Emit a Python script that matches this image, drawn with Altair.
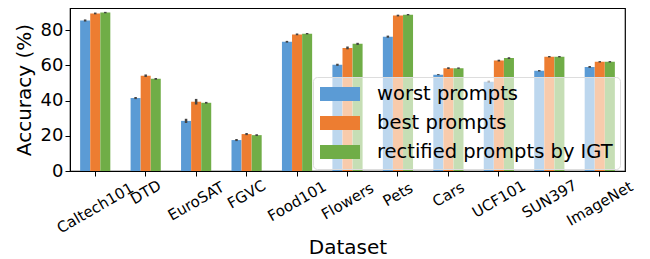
import altair as alt
import pandas as pd

datasets = ["Caltech101", "DTD", "EuroSAT", "FGVC", "Food101", "Flowers", "Pets",
            "Cars", "UCF101", "SUN397", "ImageNet"]
series = ["worst prompts", "best prompts", "rectified prompts by IGT"]
worst = [85.6, 41.5, 28.5, 17.6, 73.5, 60.4, 76.4, 54.8, 50.8, 57.0, 59.2]
best = [89.6, 54.2, 39.4, 21.0, 77.7, 70.0, 88.4, 58.5, 62.8, 65.0, 62.1]
rect = [90.1, 52.4, 38.8, 20.4, 78.1, 72.3, 88.9, 58.5, 64.2, 65.0, 62.1]
err_worst = [0.6, 0.6, 1.2, 0.6, 0.5, 0.6, 0.6, 0.3, 0.6, 0.4, 0.5]
err_best = [0.5, 0.7, 1.6, 0.6, 0.5, 0.8, 0.5, 0.5, 0.5, 0.4, 0.4]
err_rect = [0.4, 0.5, 0.5, 0.5, 0.4, 0.6, 0.4, 0.4, 0.5, 0.4, 0.4]
colors = ["#5b9bd5", "#ed7d31", "#70ad47"]

rows = []
for vals, errs, s in [(worst, err_worst, series[0]), (best, err_best, series[1]), (rect, err_rect, series[2])]:
    for d, v, e in zip(datasets, vals, errs):
        rows.append({"Dataset": d, "Series": s, "Accuracy": v, "lo": v - e, "hi": v + e})
df = pd.DataFrame(rows)

F = "DejaVu Sans"
xenc = alt.X("Dataset:N", sort=datasets, title="Dataset",
             scale=alt.Scale(paddingInner=0.4, paddingOuter=0.2),
             axis=alt.Axis(labelAngle=-30, labelAlign="center", labelBaseline="middle",
                           labelPadding=alt.ExprRef("9 + 2.25*length(datum.label)"),
                           labelFontSize=15, titleFontSize=20, labelFont=F, titleFont=F,
                           labelColor="black", titleColor="black", titleFontWeight="normal",
                           domainColor="black", tickColor="black", tickSize=5,
                           titlePadding=2, titleBaseline="top", labelLimit=200))
xoff = alt.XOffset("Series:N", sort=series)

bars = alt.Chart(df).mark_bar(size=10).encode(
    x=xenc,
    xOffset=xoff,
    y=alt.Y("Accuracy:Q", title="Accuracy (%)",
            scale=alt.Scale(domain=[0, 92.7], nice=False),
            axis=alt.Axis(values=[0, 20, 40, 60, 80], labelFontSize=18, titleFontSize=20,
                          labelFont=F, titleFont=F, grid=False, labelColor="black",
                          titleColor="black", titleFontWeight="normal", tickSize=5,
                          labelPadding=2, titlePadding=6,
                          domainColor="black", tickColor="black")),
    color=alt.Color("Series:N", sort=series,
                    scale=alt.Scale(domain=series, range=colors),
                    legend=alt.Legend(title=None, orient="none", legendX=243, legendY=69,
                                      labelFontSize=19.5, labelFont=F, labelColor="black",
                                      labelLimit=400,
                                      symbolType="M-1,-0.7H3V0.7H-1Z", symbolSize=400,
                                      symbolStrokeWidth=0, symbolOpacity=1,
                                      rowPadding=9, padding=7, labelOffset=37,
                                      fillColor="rgba(255,255,255,0.6)",
                                      strokeColor="#dddddd", cornerRadius=4)),
)

errs = alt.Chart(df).mark_rule(color="#444444", strokeWidth=2.5).encode(
    x=alt.X("Dataset:N", sort=datasets),
    xOffset=xoff,
    y="lo:Q",
    y2="hi:Q",
)

chart = alt.layer(bars, errs).properties(
    width=555, height=163,
    autosize=alt.AutoSizeParams(type="none"),
    padding={"left": 62, "top": 0, "right": 10, "bottom": 92},
).configure_view(stroke="black", strokeWidth=1.2)

chart.save("out.html", embed_options={"renderer": "svg", "actions": False})
